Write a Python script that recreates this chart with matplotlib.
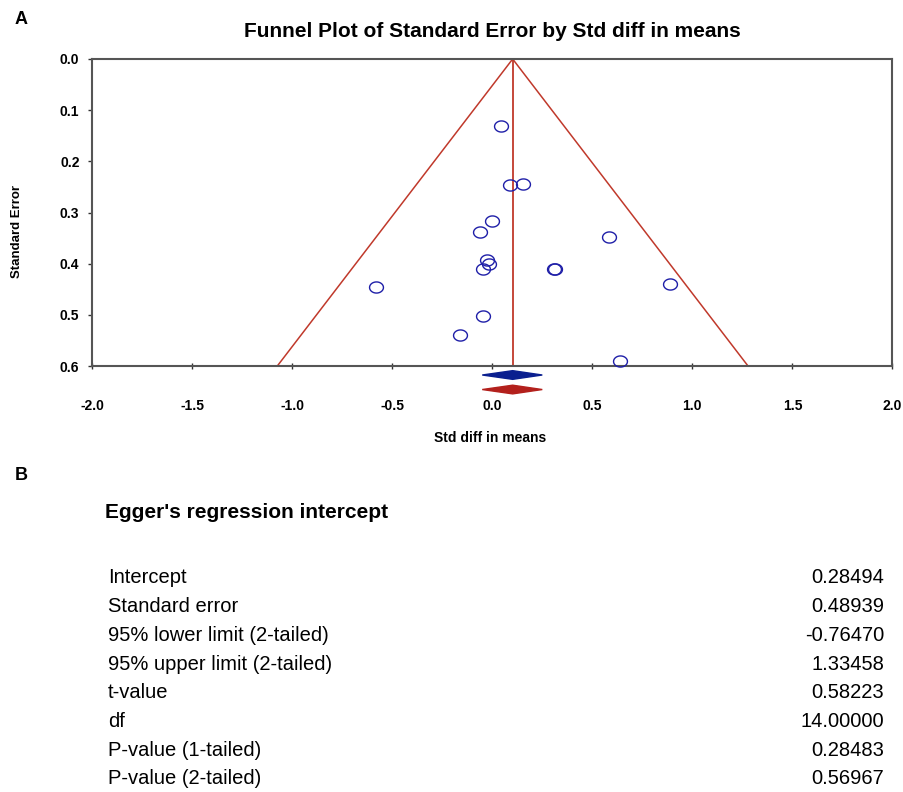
import matplotlib.pyplot as plt
import numpy as np
from matplotlib.path import Path

# study estimates (std diff in means) and their standard errors
std_diff = [0.045, 0.088, 0.156, -0.003, -0.061, 0.585, -0.028, -0.018,
            -0.048, 0.308, 0.313, -0.580, 0.886, -0.045, -0.161, 0.637]
std_err = [0.130, 0.246, 0.245, 0.317, 0.339, 0.347, 0.393, 0.400,
           0.410, 0.411, 0.411, 0.446, 0.439, 0.503, 0.540, 0.591]

pooled = 0.102
pooled_lo, pooled_hi = -0.05, 0.25
se_max = 0.6

x_ticks = [-2.0, -1.5, -1.0, -0.5, 0.0, 0.5, 1.0, 1.5, 2.0]
y_ticks = [0.0, 0.1, 0.2, 0.3, 0.4, 0.5, 0.6]

egger_labels = ["Intercept", "Standard error", "95% lower limit (2-tailed)",
                "95% upper limit (2-tailed)", "t-value", "df",
                "P-value (1-tailed)", "P-value (2-tailed)"]
egger_values = ["0.28494", "0.48939", "-0.76470", "1.33458", "0.58223",
                "14.00000", "0.28483", "0.56967"]

W, H = 904, 792
fig = plt.figure(figsize=(W / 100, H / 100), dpi=100)
plt.rcParams['font.family'] = ['Liberation Sans', 'DejaVu Sans']

def fx(px):
    return px / W

def fy(py):
    return 1 - py / H

ax = fig.add_axes([fx(92), fy(366), fx(892.5) - fx(92), fy(59) - fy(366)])

# funnel (95% limits) and pooled line
se_line = np.array([0.0, se_max])
ax.plot(pooled - 1.96 * se_line, se_line, color='#c0392b', lw=1.1)
ax.plot(pooled + 1.96 * se_line, se_line, color='#c0392b', lw=1.1)
ax.plot([pooled, pooled], [0, se_max], color='#c0392b', lw=1.3)

# slightly wide open ellipses
t = np.linspace(0, 2 * np.pi, 60)
ell = Path(np.column_stack([1.25 * np.cos(t), np.sin(t)]), closed=True)
ax.plot(std_diff, std_err, ls='none', marker=ell, ms=10, mfc='none',
        mec='#1f1fa8', mew=1.0, clip_on=False, zorder=3)

# pooled estimate diamonds below the axis
half_h = 0.0085
for yc, col in [(0.6176, '#0a1f8f'), (0.646, '#b3201c')]:
    ax.fill([pooled_lo, pooled, pooled_hi, pooled],
            [yc, yc - half_h, yc, yc + half_h], color=col, clip_on=False, zorder=4)

ax.set_xlim(-2, 2)
ax.set_ylim(se_max, 0)
ax.set_xticks(x_ticks)
ax.set_yticks(y_ticks)
ax.set_xticklabels([f"{v:.1f}" for v in x_ticks], fontweight='bold', fontsize=10)
ax.set_yticklabels([f"{v:.1f}" for v in y_ticks], fontweight='bold', fontsize=10)
ax.tick_params(axis='x', direction='inout', length=5, width=1, pad=21, color='#333333')
ax.tick_params(axis='y', direction='out', length=3, width=1, pad=6, color='#333333')
for s in ax.spines.values():
    s.set_color('#555555')
    s.set_linewidth(1.5)

fig.text(fx(492), fy(37), "Funnel Plot of Standard Error by Std diff in means",
         ha='center', va='baseline', fontsize=15, fontweight='bold')
fig.text(fx(490), fy(438), "Std diff in means", ha='center', va='center',
         fontsize=10, fontweight='bold')
fig.text(fx(17), fy(231), "Standard Error", ha='center', va='center',
         rotation=90, fontsize=9.5, fontweight='bold')
fig.text(fx(15), fy(20), "A", ha='left', va='center', fontsize=13, fontweight='bold')
fig.text(fx(15), fy(476), "B", ha='left', va='center', fontsize=13, fontweight='bold')

# panel B: Egger's regression table
fig.text(fx(105), fy(513), "Egger's regression intercept", ha='left', va='center',
         fontsize=15, fontweight='bold')
row_y = [576, 605, 634, 663, 691, 720, 749, 777]
for lab, val, py in zip(egger_labels, egger_values, row_y):
    fig.text(fx(108), fy(py + 7), lab, ha='left', va='baseline', fontsize=14.5)
    fig.text(fx(884), fy(py + 7), val, ha='right', va='baseline', fontsize=14.5)

fig.savefig("out.png", dpi=100)
